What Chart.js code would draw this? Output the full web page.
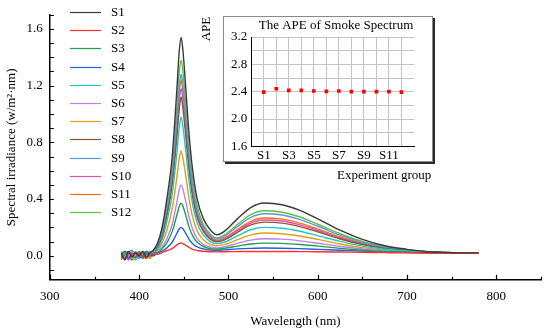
<!DOCTYPE html>
<html>
<head>
<meta charset="utf-8">
<script src="https://cdn.jsdelivr.net/npm/chart.js@4"></script>
<style>
html, body { margin: 0; padding: 0; background: #fff; }
#wrap { position: relative; width: 550px; height: 334px; }
#main { position: absolute; left: 0; top: 0; }
#inset { position: absolute; left: 200px; top: 10px; }
</style>
</head>
<body>
<div id="wrap">
<canvas id="main" width="550" height="334"></canvas>
<canvas id="inset" width="245" height="178"></canvas>
</div>
<script>
// wavelength grid (nm) shared by all spectra
const wavelength = [380, 384, 388, 392, 396, 400, 404, 408, 412, 416,
    420, 425, 431, 437, 442, 445, 447, 449, 452, 456, 460, 465, 472, 480, 487,
    495, 510, 525, 540, 560, 580, 600, 625, 650, 675, 700, 720, 740, 760, 780]

const s1 = [0.02, -0.03, 0.03, -0.01, 0.02, 0.00, 0.03, -0.01, 0.02, 0.04,
    0.08, 0.18, 0.40, 0.70, 1.15, 1.45, 1.54, 1.45, 1.20, 0.85, 0.60, 0.40, 0.26, 0.18, 0.148,
    0.17, 0.26, 0.34, 0.372, 0.36, 0.32, 0.26, 0.18, 0.115, 0.07, 0.045, 0.03, 0.025, 0.02, 0.02]
const s2 = [0.00, -0.02, 0.02, 0.01, -0.01, 0.02, 0.00, -0.02, 0.01, 0.01,
    0.01, 0.02, 0.035, 0.05, 0.075, 0.087, 0.09, 0.086, 0.075, 0.058, 0.045, 0.037, 0.031, 0.028, 0.027,
    0.028, 0.029, 0.03, 0.03, 0.03, 0.029, 0.028, 0.026, 0.024, 0.022, 0.02, 0.019, 0.018, 0.017, 0.017]
const s3 = [-0.02, 0.01, 0.03, 0.00, -0.01, 0.03, -0.02, 0.02, 0.00, 0.02,
    0.02, 0.045, 0.09, 0.17, 0.28, 0.35, 0.37, 0.35, 0.29, 0.20, 0.14, 0.095, 0.065, 0.05, 0.047,
    0.052, 0.068, 0.083, 0.089, 0.087, 0.079, 0.068, 0.052, 0.039, 0.03, 0.025, 0.021, 0.019, 0.018, 0.017]
const s4 = [0.01, 0.03, -0.02, 0.01, 0.02, -0.01, 0.00, 0.03, 0.01, 0.00,
    0.015, 0.03, 0.055, 0.095, 0.155, 0.19, 0.20, 0.19, 0.16, 0.115, 0.085, 0.062, 0.048, 0.04, 0.038,
    0.041, 0.048, 0.052, 0.054, 0.053, 0.05, 0.045, 0.038, 0.032, 0.027, 0.023, 0.02, 0.019, 0.018, 0.017]
const s5 = [0.03, -0.01, 0.02, 0.00, -0.03, 0.02, 0.01, -0.02, 0.03, 0.01,
    0.04, 0.10, 0.24, 0.43, 0.71, 0.91, 0.98, 0.91, 0.75, 0.52, 0.36, 0.23, 0.145, 0.098, 0.085,
    0.095, 0.14, 0.183, 0.20, 0.194, 0.173, 0.142, 0.101, 0.068, 0.046, 0.033, 0.025, 0.021, 0.019, 0.018]
const s6 = [0.02, -0.02, 0.00, 0.03, 0.01, -0.02, 0.02, 0.00, 0.01, 0.02,
    0.025, 0.055, 0.12, 0.22, 0.37, 0.47, 0.50, 0.47, 0.39, 0.27, 0.185, 0.12, 0.08, 0.06, 0.055,
    0.062, 0.087, 0.11, 0.12, 0.117, 0.105, 0.088, 0.065, 0.047, 0.034, 0.027, 0.022, 0.019, 0.018, 0.017]
const s7 = [-0.01, 0.02, 0.03, -0.02, 0.01, 0.00, 0.02, 0.03, -0.02, 0.01,
    0.03, 0.08, 0.18, 0.33, 0.54, 0.69, 0.74, 0.69, 0.57, 0.40, 0.27, 0.175, 0.112, 0.078, 0.07,
    0.078, 0.113, 0.147, 0.16, 0.155, 0.139, 0.115, 0.083, 0.057, 0.04, 0.03, 0.024, 0.02, 0.018, 0.017]
const s8 = [0.00, 0.03, 0.01, -0.03, 0.02, 0.02, -0.01, 0.01, 0.02, 0.00,
    0.05, 0.12, 0.28, 0.50, 0.82, 1.04, 1.12, 1.04, 0.86, 0.60, 0.41, 0.27, 0.17, 0.115, 0.098,
    0.11, 0.165, 0.217, 0.237, 0.23, 0.205, 0.168, 0.118, 0.079, 0.052, 0.036, 0.027, 0.022, 0.019, 0.018]
const s9 = [0.01, -0.02, 0.02, 0.04, -0.01, 0.01, -0.02, 0.03, 0.01, 0.02,
    0.06, 0.15, 0.33, 0.58, 0.95, 1.20, 1.28, 1.20, 1.00, 0.70, 0.49, 0.32, 0.205, 0.14, 0.118,
    0.135, 0.205, 0.27, 0.296, 0.287, 0.255, 0.208, 0.145, 0.094, 0.06, 0.04, 0.03, 0.023, 0.02, 0.02]
const s10 = [0.02, 0.00, -0.03, 0.02, 0.01, -0.02, 0.03, 0.01, -0.01, 0.03,
    0.05, 0.13, 0.30, 0.53, 0.87, 1.10, 1.18, 1.10, 0.91, 0.63, 0.44, 0.285, 0.18, 0.122, 0.104,
    0.117, 0.176, 0.23, 0.252, 0.245, 0.218, 0.178, 0.125, 0.083, 0.054, 0.037, 0.028, 0.022, 0.019, 0.018]
const s11 = [-0.03, 0.02, 0.00, -0.02, 0.03, -0.01, 0.02, 0.00, 0.03, 0.02,
    0.06, 0.14, 0.32, 0.56, 0.92, 1.16, 1.24, 1.16, 0.96, 0.67, 0.46, 0.30, 0.19, 0.128, 0.108,
    0.122, 0.185, 0.243, 0.266, 0.258, 0.23, 0.188, 0.132, 0.087, 0.056, 0.038, 0.028, 0.022, 0.02, 0.018]
const s12 = [-0.02, 0.03, -0.01, 0.02, -0.02, 0.03, 0.00, 0.02, -0.01, 0.03,
    0.07, 0.16, 0.36, 0.63, 1.03, 1.30, 1.38, 1.30, 1.08, 0.76, 0.53, 0.35, 0.22, 0.15, 0.125,
    0.145, 0.22, 0.29, 0.317, 0.307, 0.273, 0.222, 0.155, 0.10, 0.063, 0.042, 0.03, 0.024, 0.02, 0.018]

const seriesNames = ['S1', 'S2', 'S3', 'S4', 'S5', 'S6', 'S7', 'S8', 'S9', 'S10', 'S11', 'S12']
const seriesValues = [s1, s2, s3, s4, s5, s6, s7, s8, s9, s10, s11, s12]

// y tick positions and which of them carry a label
const yTickValues = [-0.1, 0, 0.1, 0.2, 0.3, 0.4, 0.5, 0.6, 0.7, 0.8, 0.9, 1.0, 1.1, 1.2, 1.3, 1.4, 1.5, 1.6, 1.7]
const yLabelValues = [0, 0.4, 0.8, 1.2, 1.6]

// inset: APE per experiment group
const apeGroups = ['S1', 'S2', 'S3', 'S4', 'S5', 'S6', 'S7', 'S8', 'S9', 'S10', 'S11', 'S12']
const apeValues = [2.395, 2.443, 2.42, 2.42, 2.41, 2.405, 2.41, 2.40, 2.40, 2.40, 2.40, 2.395]
const apeLabelValues = [1.6, 2.0, 2.4, 2.8, 3.2]

const colors = ['#3a3a3a', '#ff3030', '#1e9e50', '#1f5fe0', '#1fc8c8', '#c080e8',
    '#e0a010', '#8c5a2e', '#5a9ad8', '#e050b0', '#ff6a10', '#60c040']

const FONT = 'Liberation Serif'
Chart.defaults.font.family = FONT
Chart.defaults.font.size = 13
Chart.defaults.color = '#000'

function isIn(list, v)
{
    return list.some(l => Math.abs(l - v) < 1e-6)
}

// inward tick marks + vertical legend
const mainDecor = {
    id: 'mainDecor',
    afterDraw(chart) {
        const {ctx, chartArea, scales: {x, y}} = chart
        ctx.save()
        ctx.strokeStyle = '#000'
        ctx.lineWidth = 1.2
        ctx.beginPath()
        x.ticks.forEach(t => {
            const px = Math.round(x.getPixelForValue(t.value)) + 0.5
            const len = t.value % 100 === 0 ? 5 : 3
            ctx.moveTo(px, chartArea.bottom)
            ctx.lineTo(px, chartArea.bottom - len)
        })
        y.ticks.forEach(t => {
            const py = Math.round(y.getPixelForValue(t.value)) + 0.5
            ctx.moveTo(chartArea.left, py)
            ctx.lineTo(chartArea.left + 4, py)
        })
        ctx.stroke()

        ctx.font = '13px "' + FONT + '"'
        ctx.textBaseline = 'middle'
        chart.data.datasets.forEach((ds, i) => {
            const ly = Math.round(12 + i * 18.2) + 0.5
            ctx.strokeStyle = ds.borderColor
            ctx.lineWidth = 1.2
            ctx.beginPath()
            ctx.moveTo(70, ly)
            ctx.lineTo(101, ly)
            ctx.stroke()
            ctx.fillStyle = '#000'
            ctx.fillText(ds.label, 111, ly)
        })
        ctx.restore()
    }
}

new Chart(document.getElementById('main'), {
    type: 'line',
    data: {
        datasets: seriesValues.map((vals, i) => ({
            label: seriesNames[i],
            data: wavelength.map((w, j) => ({x: w, y: vals[j]})),
            borderColor: colors[i],
            borderWidth: 1.4,
            pointRadius: 0,
            cubicInterpolationMode: 'monotone'
        }))
    },
    options: {
        responsive: false,
        animation: false,
        devicePixelRatio: 1,
        layout: { padding: { left: 0, right: 9, top: 14, bottom: 0 } },
        plugins: { legend: { display: false }, tooltip: { enabled: false } },
        scales: {
            x: {
                type: 'linear',
                min: 300,
                max: 850,
                grid: { display: false, drawTicks: false },
                border: { display: true, color: '#000', width: 1.5 },
                ticks: {
                    stepSize: 50,
                    autoSkip: false,
                    maxRotation: 0,
                    padding: 9,
                    callback: v => v % 100 === 0 ? String(v) : ''
                },
                title: { display: true, text: 'Wavelength (nm)', padding: { top: 0, bottom: 5 } }
            },
            y: {
                min: -0.17,
                max: 1.7,
                afterBuildTicks: scale => { scale.ticks = yTickValues.map(v => ({value: v})) },
                grid: { display: false, drawTicks: false },
                border: { display: true, color: '#000', width: 1.5 },
                ticks: {
                    autoSkip: false,
                    padding: 7,
                    callback: v => isIn(yLabelValues, v) ? v.toFixed(1) : ''
                },
                title: { display: true, text: 'Spectral irradiance (w/m²·nm)', padding: { top: 4, bottom: 0 } }
            }
        }
    },
    plugins: [mainDecor]
})

// framed box with drop shadow and the inset's texts
const insetFrame = {
    id: 'insetFrame',
    beforeDraw(chart) {
        const ctx = chart.ctx
        ctx.save()
        ctx.fillStyle = '#2a2a2a'
        ctx.fillRect(25, 8, 210, 146)
        ctx.fillStyle = '#fff'
        ctx.fillRect(23, 6, 210, 146)
        ctx.strokeStyle = '#8a8a8a'
        ctx.lineWidth = 1
        ctx.strokeRect(23.5, 6.5, 209, 145)
        ctx.restore()
    },
    afterDraw(chart) {
        const ctx = chart.ctx
        ctx.save()
        ctx.fillStyle = '#000'
        ctx.font = '13px "' + FONT + '"'
        ctx.textBaseline = 'middle'
        ctx.textAlign = 'center'
        ctx.fillText('The APE of Smoke Spectrum', 136, 16)
        ctx.textAlign = 'left'
        ctx.fillText('Experiment group', 137, 166)
        ctx.translate(7, 19)
        ctx.rotate(-Math.PI / 2)
        ctx.textAlign = 'center'
        ctx.fillText('APE', 0, 0)
        ctx.restore()
    }
}

new Chart(document.getElementById('inset'), {
    type: 'scatter',
    data: {
        datasets: [{
            data: apeValues.map((v, i) => ({x: i + 1, y: v})),
            showLine: false,
            pointStyle: 'rect',
            pointRadius: 2.6,
            pointBackgroundColor: '#ff0000',
            pointBorderColor: '#ff0000',
            pointBorderWidth: 0
        }]
    },
    options: {
        responsive: false,
        animation: false,
        devicePixelRatio: 1,
        layout: { padding: { left: 27, right: 31, top: 27, bottom: 24 } },
        plugins: { legend: { display: false }, tooltip: { enabled: false } },
        scales: {
            x: {
                type: 'linear',
                min: 0,
                max: apeGroups.length + 1,
                grid: {
                    color: c => (c.tick.value >= 1 && c.tick.value <= apeGroups.length) ? '#c4c4c4' : 'rgba(0,0,0,0)',
                    drawTicks: false
                },
                border: { display: true, color: '#000', width: 1 },
                ticks: {
                    stepSize: 1,
                    autoSkip: false,
                    maxRotation: 0,
                    padding: 1,
                    callback: v => (v >= 1 && v <= apeGroups.length && v % 2 === 1) ? apeGroups[v - 1] : ''
                }
            },
            y: {
                min: 1.6,
                max: 3.2,
                grid: { color: '#c4c4c4', drawTicks: false },
                border: { display: true, color: '#000', width: 1 },
                ticks: {
                    stepSize: 0.2,
                    autoSkip: false,
                    padding: 4,
                    callback: v => isIn(apeLabelValues, v) ? v.toFixed(1) : ''
                }
            }
        }
    },
    plugins: [insetFrame]
})
</script>
</body>
</html>
